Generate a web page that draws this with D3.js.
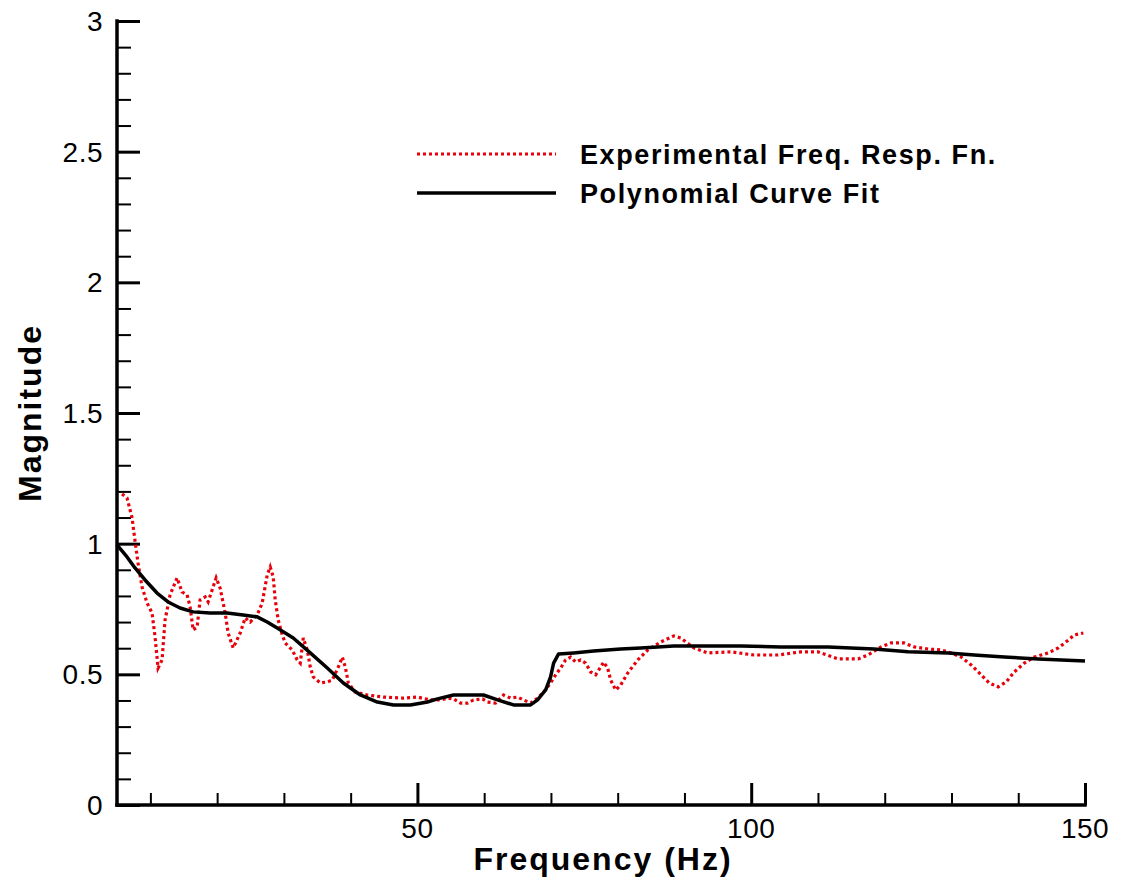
<!DOCTYPE html>
<html>
<head>
<meta charset="utf-8">
<script src="https://cdn.jsdelivr.net/npm/d3@7"></script>
<style>
  body { margin: 0; background: #fff; }
  text { font-family: "Liberation Sans", Arial, sans-serif; fill: #000; }
</style>
</head>
<body>
<svg id="chart" width="1121" height="884"></svg>
<script>
// experimental FRF
const expFreq = [5.75, 6.5, 7.25, 7.7, 8.15, 8.75, 9.5, 10.25, 10.7, 11.15, 11.75, 12.2, 12.95, 14.0,
  14.75, 15.5, 15.95, 16.4, 17.0, 17.45, 18.2, 18.65, 19.25, 19.85, 20.45, 21.2, 21.65, 22.4,
  23.45, 24.2, 24.95, 26.0, 26.75, 27.5, 27.95, 28.4, 28.7, 29.15, 29.75, 30.2, 31.25, 32.0,
  32.45, 32.9, 33.5, 33.95, 34.4, 35.45, 36.5, 37.25, 38.15, 38.75, 39.2, 39.65, 40.7, 42.5,
  44.9, 47.9, 50.0, 51.95, 53.45, 54.5, 55.4, 56.45, 57.5, 58.4, 59.75, 60.5, 61.7, 62.9,
  63.95, 65.0, 65.9, 66.95, 68.0, 68.9, 69.95, 70.7, 71.45, 72.2, 72.95, 73.7, 74.45, 75.2,
  75.95, 76.7, 77.45, 77.9, 78.5, 78.95, 79.7, 80.45, 81.5, 83.0, 84.5, 86.45, 88.4, 89.45,
  91.4, 93.5, 96.95, 100.4, 104.0, 107.45, 110.0, 110.9, 113.0, 116.0, 117.5, 119.45, 120.95,
  122.9, 124.4, 126.5, 128.45, 129.95, 131.45, 132.95, 134.45, 135.65, 137.0, 138.2, 139.4,
  140.9, 142.4, 144.5, 146.0, 147.5, 148.4, 149.75];
const expMag = [1.19, 1.175, 1.10, 1.01, 0.926, 0.834, 0.773, 0.735, 0.643, 0.524, 0.555, 0.708, 0.804, 0.869,
  0.815, 0.804, 0.758, 0.670, 0.681, 0.785, 0.796, 0.777, 0.823, 0.869, 0.830, 0.735, 0.658, 0.601,
  0.658, 0.716, 0.700, 0.727, 0.773, 0.88, 0.911, 0.873, 0.785, 0.708, 0.651, 0.620, 0.593, 0.555,
  0.543, 0.639, 0.593, 0.528, 0.490, 0.467, 0.471, 0.478, 0.528, 0.566, 0.528, 0.467, 0.432, 0.421,
  0.413, 0.409, 0.413, 0.402, 0.402, 0.409, 0.406, 0.390, 0.390, 0.402, 0.406, 0.394, 0.390, 0.421,
  0.409, 0.413, 0.402, 0.390, 0.409, 0.432, 0.467, 0.498, 0.524, 0.555, 0.566, 0.547, 0.555, 0.543,
  0.509, 0.498, 0.528, 0.547, 0.524, 0.478, 0.440, 0.459, 0.505, 0.555, 0.593, 0.624, 0.647, 0.639,
  0.601, 0.582, 0.586, 0.574, 0.574, 0.586, 0.586, 0.578, 0.559, 0.559, 0.574, 0.605, 0.620,
  0.620, 0.605, 0.597, 0.593, 0.582, 0.566, 0.536, 0.498, 0.467, 0.452, 0.471, 0.509,
  0.543, 0.566, 0.582, 0.601, 0.631, 0.651, 0.658];

// polynomial fit
const fitFreq = [5, 6.5, 7.7, 9.2, 11.0, 12.65, 14.45, 16.4, 18.95, 21.5, 23.9, 26.0, 27.5, 29.0, 31.4,
  33.95, 36.5, 38.9, 41.45, 44.0, 46.4, 48.95, 51.5, 53.0, 55.4, 57.95, 59.9, 62.0, 64.4, 66.95,
  68.0, 69.2, 69.95, 70.4, 71.15, 73.4, 76.4, 80.45, 83.45, 86.0, 88.4, 98.45, 104.45, 111.5,
  118.4, 123.5, 129.5, 133.4, 137.9, 143.0, 150];
const fitMag = [0.995, 0.949, 0.907, 0.861, 0.811, 0.777, 0.754, 0.739, 0.735, 0.735, 0.727, 0.720, 0.700, 0.677, 0.639,
  0.582, 0.524, 0.467, 0.421, 0.394, 0.383, 0.383, 0.394, 0.406, 0.421, 0.421, 0.421, 0.402, 0.383, 0.383,
  0.402, 0.440, 0.490, 0.543, 0.578, 0.582, 0.589, 0.597, 0.601, 0.605, 0.608, 0.608, 0.605, 0.605,
  0.597, 0.586, 0.582, 0.574, 0.566, 0.559, 0.551];

const xMajor = [50, 100, 150];
const xMinor = [10, 20, 30, 40, 60, 70, 80, 90, 110, 120, 130, 140];
const yMajor = [0, 0.5, 1, 1.5, 2, 2.5, 3];
const yMinor = d3.range(0, 30).map(i => i / 10).filter(v => Math.round(v * 10) % 5 !== 0);

const legendItems = [
  { text: 'Experimental Freq. Resp. Fn.', color: '#e8000a', width: 3.2, dash: '3,3' },
  { text: 'Polynomial Curve Fit', color: '#000', width: 3.5, dash: null }
];

const margin = { left: 117, right: 36, top: 21, bottom: 79 };
const W = 1121, H = 884;
const svg = d3.select('#chart');

const x = d3.scaleLinear().domain([5, 150]).range([margin.left, W - margin.right]);
const y = d3.scaleLinear().domain([0, 3]).range([H - margin.bottom, margin.top]);

// axes: tick marks point inward
function tickAxis(gen, values, size, width) {
  return g => g.call(gen.tickValues(values).tickSize(size).tickFormat(''))
    .call(g => g.select('.domain').remove())
    .call(g => g.selectAll('line').attr('stroke', '#000').attr('stroke-width', width));
}

svg.append('g').attr('transform', `translate(0,${y(0)})`)
  .call(tickAxis(d3.axisTop(x), xMinor, 12, 2));
svg.append('g').attr('transform', `translate(0,${y(0)})`)
  .call(tickAxis(d3.axisTop(x), xMajor, 22, 3));
svg.append('g').attr('transform', `translate(${x(5)},0)`)
  .call(tickAxis(d3.axisRight(y), yMinor, 14, 2));
svg.append('g').attr('transform', `translate(${x(5)},0)`)
  .call(tickAxis(d3.axisRight(y), yMajor, 23, 3));

// axis lines
svg.append('line')
  .attr('x1', x(5)).attr('x2', x(150)).attr('y1', y(0)).attr('y2', y(0))
  .attr('stroke', '#000').attr('stroke-width', 3.5).attr('stroke-linecap', 'square');
svg.append('line')
  .attr('x1', x(5)).attr('x2', x(5)).attr('y1', y(0)).attr('y2', y(3))
  .attr('stroke', '#000').attr('stroke-width', 3.5).attr('stroke-linecap', 'square');

// tick labels
svg.append('g').selectAll('text').data(xMajor).enter().append('text')
  .attr('x', d => x(d)).attr('y', y(0) + 33)
  .attr('text-anchor', 'middle').attr('font-size', 28).attr('letter-spacing', 0.5)
  .text(d => d);
svg.append('g').selectAll('text').data(yMajor).enter().append('text')
  .attr('x', x(5) - 14).attr('y', d => y(d)).attr('dy', '0.36em')
  .attr('text-anchor', 'end').attr('font-size', 28).attr('letter-spacing', 0.5)
  .text(d => d);

// axis titles
svg.append('text')
  .attr('x', 603).attr('y', 870)
  .attr('text-anchor', 'middle').attr('font-size', 32).attr('font-weight', 'bold')
  .attr('letter-spacing', 2)
  .text('Frequency (Hz)');
svg.append('text')
  .attr('transform', `translate(41,${(y(0) + y(3)) / 2}) rotate(-90)`)
  .attr('text-anchor', 'middle').attr('font-size', 32).attr('font-weight', 'bold')
  .attr('letter-spacing', 2)
  .text('Magnitude');

// curves
const line = d3.line().x(d => x(d[0])).y(d => y(d[1]));
svg.append('path')
  .datum(d3.zip(expFreq, expMag))
  .attr('d', line)
  .attr('fill', 'none')
  .attr('stroke', legendItems[0].color)
  .attr('stroke-width', legendItems[0].width)
  .attr('stroke-dasharray', legendItems[0].dash);
svg.append('path')
  .datum(d3.zip(fitFreq, fitMag))
  .attr('d', line)
  .attr('fill', 'none')
  .attr('stroke', legendItems[1].color)
  .attr('stroke-width', legendItems[1].width)
  .attr('stroke-linejoin', 'round');

// legend
const legend = svg.append('g').attr('transform', 'translate(417,154)');
const items = legend.selectAll('g').data(legendItems).enter().append('g')
  .attr('transform', (d, i) => `translate(0,${i * 39})`);
items.append('line')
  .attr('x1', 0).attr('x2', 139).attr('y1', 0).attr('y2', 0)
  .attr('stroke', d => d.color).attr('stroke-width', d => d.width)
  .attr('stroke-dasharray', d => d.dash);
items.append('text')
  .attr('x', 163).attr('y', 0).attr('dy', '0.36em')
  .attr('font-size', 27).attr('font-weight', 'bold').attr('letter-spacing', 1.6)
  .text(d => d.text);
</script>
</body>
</html>
